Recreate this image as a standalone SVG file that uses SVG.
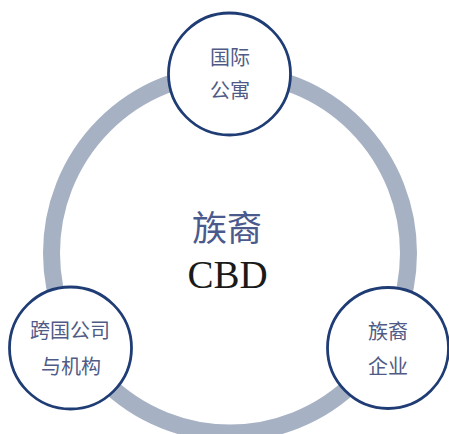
<svg xmlns="http://www.w3.org/2000/svg" width="449" height="434" viewBox="0 0 449 434">
<style>
.node{fill:#ffffff;stroke:#1f3d74;stroke-width:2.8}
.lbl{font-family:"Noto Sans CJK SC","Noto Sans",sans-serif;font-size:20px;fill:#4f5b86;text-anchor:middle;dominant-baseline:central}
.ctr{font-family:"Noto Sans CJK SC","Noto Sans",sans-serif;font-size:35px;fill:#4b5a8c;text-anchor:middle;dominant-baseline:central}
.cbd{font-family:"Liberation Serif","Times New Roman",serif;font-size:39px;fill:#1a1a1a;text-anchor:middle}
</style>
<rect width="449" height="434" fill="#ffffff"/>
<g id="connectors">
<ellipse cx="230" cy="253" rx="178.5" ry="180" fill="none" stroke="#a6b1c3" stroke-width="17"/>
</g>
<g id="center">
<text class="ctr" x="227" y="225">族裔</text>
<text class="cbd" x="227.5" y="288">CBD</text>
</g>
<g id="node-top">
<circle class="node" cx="229.5" cy="74" r="61"/>
<text class="lbl" x="230" y="56">国际</text>
<text class="lbl" x="230" y="89">公寓</text>
</g>
<g id="node-left">
<circle class="node" cx="70.5" cy="348" r="61"/>
<text class="lbl" x="70" y="329">跨国公司</text>
<text class="lbl" x="71" y="365">与机构</text>
</g>
<g id="node-right">
<circle class="node" cx="388" cy="348" r="60.5"/>
<text class="lbl" x="388" y="330">族裔</text>
<text class="lbl" x="388" y="365">企业</text>
</g>
</svg>
